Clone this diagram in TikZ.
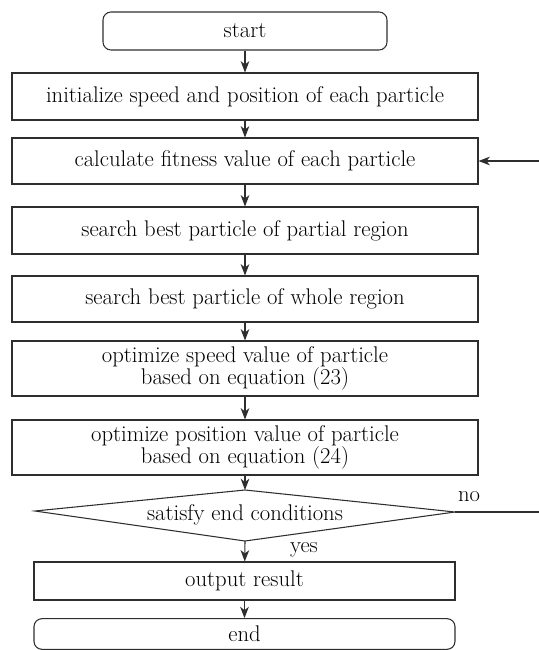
\documentclass[tikz,border=0pt]{standalone}
\usetikzlibrary{arrows.meta}
\definecolor{ink}{HTML}{2E2E2E}
\begin{document}
\begin{tikzpicture}[x=0.75pt,y=-0.75pt,
  every node/.style={font=\fontsize{17}{16.5}\selectfont, text=black},
  box/.style={draw=ink, line width=0.8pt, rectangle, inner sep=0pt, align=center,
    minimum width=349.5pt},
  rbox/.style={box, rounded corners=6pt},
  arr/.style={draw=ink, line width=0.8pt, -{Stealth[length=8.5pt,width=6.5pt,inset=2.5pt]}},
  ln/.style={draw=ink, line width=0.8pt}]
\useasboundingbox (0,0) rectangle (539,650);
\node[rbox, minimum width=213pt, minimum height=28.5pt] (start) at (245,31) {start};
\node[box, minimum height=35.25pt] (init) at (245,96.5) {initialize speed and position of each particle};
\node[box, minimum height=34.5pt] (calc) at (245,161) {calculate fitness value of each particle};
\node[box, minimum height=35.25pt] (part) at (245,230.5) {search best particle of partial region};
\node[box, minimum height=34.5pt] (whole) at (245,299) {search best particle of whole region};
\node[box, minimum height=41.25pt] (speed) at (245,368.5) {optimize speed value of particle\\based on equation (23)};
\node[box, minimum height=41.25pt] (pos) at (245,447.5) {optimize position value of particle\\based on equation (24)};
\coordinate (dT) at (245,490);
\coordinate (dR) at (455,512);
\coordinate (dB) at (245,541);
\coordinate (dL) at (35,511);
\draw[ln] (dT) -- (dR) -- (dB) -- (dL) -- cycle;
\node (cond) at (245,515) {satisfy end conditions};
\node[box, minimum width=315.75pt, minimum height=28.5pt] (out) at (244.5,581) {output result};
\node[rbox, minimum width=315.75pt, minimum height=23pt] (end) at (244.5,634) {end};
\node (no) at (469,497) {no};
\node (yes) at (304,550) {yes};
\coordinate (fb1) at (542,512);
\coordinate (fb2) at (542,161);
\draw[arr] (start) -- (init);
\draw[arr] (init) -- (calc);
\draw[arr] (calc) -- (part);
\draw[arr] (part) -- (whole);
\draw[arr] (whole) -- (speed);
\draw[arr] (speed) -- (pos);
\draw[arr] (pos) -- (dT);
\draw[arr] (dB) -- (out);
\draw[arr] (out) -- (end);
\draw[arr] (dR) -- (fb1) -- (fb2) -- (calc.east);
\end{tikzpicture}
\end{document}
